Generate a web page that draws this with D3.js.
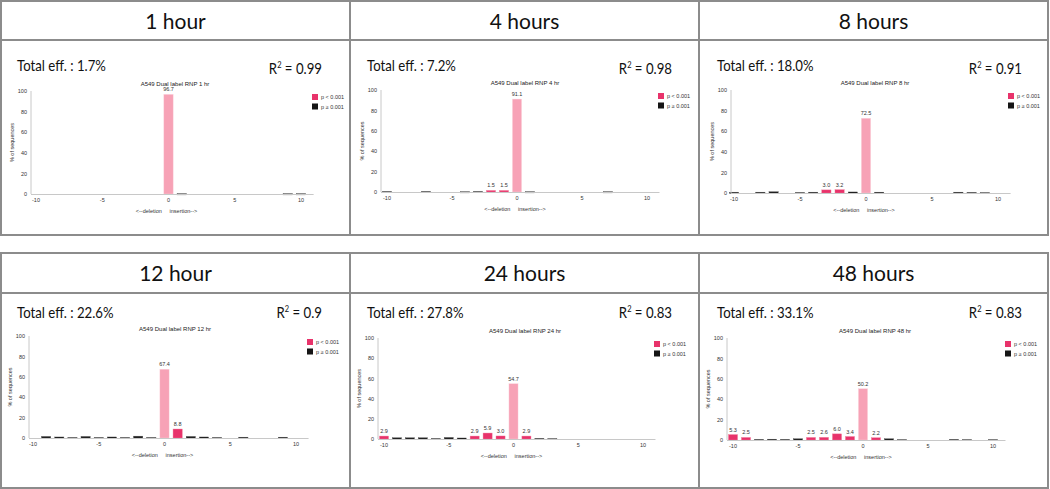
<!DOCTYPE html>
<html><head><meta charset="utf-8">
<script src="https://cdn.jsdelivr.net/npm/d3@7/dist/d3.min.js"></script>
<style>
html,body{margin:0;padding:0;background:#fff;}
svg{display:block;}
</style></head>
<body><svg id="c" width="1050" height="489"></svg>
<script>
// ---------- DATA ----------
const categories = [-10,-9,-8,-7,-6,-5,-4,-3,-2,-1,0,1,2,3,4,5,6,7,8,9,10];
const xTicks = [-10,-5,0,5,10];
const yTicks = [0,20,40,60,80,100];
const panelTitles = ["1 hour","4 hours","8 hours","12 hour","24 hours","48 hours"];
const chartTitles = ["A549 Dual label RNP 1 hr","A549 Dual label RNP 4 hr","A549 Dual label RNP 8 hr",
                     "A549 Dual label RNP 12 hr","A549 Dual label RNP 24 hr","A549 Dual label RNP 48 hr"];
const totalEff = ["1.7%","7.2%","18.0%","22.6%","27.8%","33.1%"];
const rSquared = ["0.99","0.98","0.91","0.9","0.83","0.83"];
const legendLabels = ["p < 0.001","p \u2265 0.001"];
//                 -10  -9  -8  -7  -6  -5  -4  -3  -2  -1    0    1   2   3   4  5   6   7   8   9  10
const values1h  = [0,   0,  0,  0,  0,  0,  0,  0,  0,  0, 96.7, 0.3, 0,  0,  0, 0,  0,  0,  0, 0.3,0.3];
const values4h  = [0.5, 0,  0, 0.5, 0,  0, 0.3,0.5,1.5,1.5,91.1, 0.3, 0,  0,  0, 0,  0, 0.3, 0,  0,  0];
const values8h  = [0.8, 0, 0.8,1.2, 0, 0.5,0.8,3.0,3.2,1.0,72.5, 0.8, 0,  0,  0, 0,  0, 0.8,0.6,0.4, 0];
const values12h = [0,  1.5,1.0,0.5,1.5,0.5,1.0,0.5,1.8,0.5,67.4, 8.8,1.5,1.0,0.5,0, 0.8, 0,  0, 0.8, 0];
const values24h = [2.9,1.2,1.2,1.2,0.5,1.5,1.0,2.9,5.9,3.0,54.7, 2.9,0.6,0.4, 0, 0,  0,  0,  0,  0,  0];
const values48h = [5.3,2.5,0.6,0.8,0.6,1.2,2.5,2.6,6.0,3.4,50.2, 2.2,1.2,0.4, 0, 0,  0, 0.6,0.4, 0, 0.4];
const allValues = [values1h, values4h, values8h, values12h, values24h, values48h];
// categories with p < 0.001 (besides unedited 0)
const sig1h = [], sig4h = [-2,-1], sig8h = [-3,-2], sig12h = [1],
      sig24h = [-10,-3,-2,-1,1], sig48h = [-10,-9,-4,-3,-2,-1,1];
const allSig = [sig1h, sig4h, sig8h, sig12h, sig24h, sig48h];

// ---------- LAYOUT (positions/styles) ----------
const colSig = "#e8336b", colWT = "#f7a2b6", colNS = "#151515";
const borderCol = "#8c8c8c";
const cols = [1, 350, 699, 1048];
const tables = [{top:1, head:40, bottom:235}, {top:253, head:293, bottom:488}];
// per panel: ox, axisX, x of -10, x of 10, y of 100, y of 0 (relative to ox)
const geo = [
  {ox:0,   ax:31, x0:36, x1:301, yT:91,  yB:194, row:0, lx:312},
  {ox:350, ax:31, x0:37, x1:297, yT:90,  yB:192, row:0, lx:308},
  {ox:700, ax:31, x0:34, x1:298, yT:90,  yB:193, row:0, lx:308},
  {ox:0,   ax:29, x0:33, x1:296, yT:336, yB:438, row:1, lx:307},
  {ox:350, ax:28, x0:34, x1:293, yT:338, yB:439, row:1, lx:304},
  {ox:700, ax:27, x0:33, x1:293, yT:338, yB:440, row:1, lx:305}
];
const bigFont = "Lato, 'Open Sans', sans-serif";
const smallFont = "'Liberation Sans', Arial, sans-serif";
const condense = 0.88;

const svg = d3.select("#c");

function squeeze(sel) {
  const n = sel.node();
  const w = n.getComputedTextLength();
  sel.attr("textLength", w * condense).attr("lengthAdjust","spacingAndGlyphs");
}

// tables
tables.forEach(t => {
  const g = svg.append("g").attr("fill","none").attr("stroke",borderCol).attr("stroke-width",2);
  g.append("rect").attr("x",cols[0]).attr("y",t.top).attr("width",cols[3]-cols[0]).attr("height",t.bottom-t.top);
  g.append("line").attr("x1",cols[0]).attr("x2",cols[3]).attr("y1",t.head).attr("y2",t.head);
  [cols[1],cols[2]].forEach(x => g.append("line").attr("x1",x).attr("x2",x).attr("y1",t.top).attr("y2",t.bottom));
});

geo.forEach((p, i) => {
  const t = tables[p.row];
  const cx = (cols[i%3] + cols[i%3+1]) / 2;
  // header
  svg.append("text").attr("x",cx).attr("y", t.top + 27.5).attr("text-anchor","middle")
    .attr("font-family",bigFont).attr("font-size",21).attr("fill","#111").text(panelTitles[i]);
  const g = svg.append("g").attr("transform",`translate(${p.ox},0)`);
  const effY = p.row===0 ? t.head + 31 : t.head + 25;
  const eff = g.append("text").attr("x",17).attr("y",effY).attr("font-family",bigFont).attr("font-size",15)
    .attr("fill","#111").text("Total eff. : " + totalEff[i]);
  squeeze(eff);
  const r = g.append("text").attr("x",322).attr("y",effY + (p.row===0?3:0)).attr("text-anchor","end")
    .attr("font-family",bigFont).attr("font-size",15).attr("fill","#111");
  r.append("tspan").text("R");
  r.append("tspan").attr("font-size",8.5).attr("dy",-6).text("2");
  r.append("tspan").attr("dy",6).text(" = " + rSquared[i]);
  squeeze(r);

  // scales
  const step = (p.x1 - p.x0) / 20;
  const x = d3.scaleBand().domain(categories).range([p.x0 - step/2, p.x1 + step/2]).paddingInner(0.3).paddingOuter(0.15);
  const y = d3.scaleLinear().domain([0,100]).range([p.yB, p.yT]);

  // chart title
  g.append("text").attr("x",175).attr("y",p.yT - 5.5).attr("text-anchor","middle")
    .attr("font-family",smallFont).attr("font-size",6).attr("fill","#222").text(chartTitles[i]);

  // bars
  const vals = allValues[i], sig = allSig[i];
  const data = categories.map((c,k) => ({c, v: vals[k], type: c===0 ? "wt" : (sig.includes(c) ? "sig" : "ns")}));
  g.append("g").selectAll("rect").data(data.filter(d => d.v > 0)).join("rect")
    .attr("x", d => x(d.c)).attr("width", x.bandwidth())
    .attr("y", d => y(d.v)).attr("height", d => Math.max(1.2, p.yB - y(d.v)))
    .attr("fill", d => d.type==="wt" ? colWT : d.type==="sig" ? colSig : colNS)
    .attr("stroke", d => d.type==="wt" ? "#fbd0da" : d.type==="sig" ? "#f07a9a" : "#555").attr("stroke-width",0.4);
  // value labels
  g.append("g").selectAll("text").data(data.filter(d => d.type !== "ns" && d.v > 0)).join("text")
    .attr("x", d => x(d.c) + x.bandwidth()/2).attr("y", d => y(d.v) - 3)
    .attr("text-anchor","middle").attr("font-family",smallFont).attr("font-size",5.5).attr("fill","#333")
    .text(d => d3.format(".1f")(d.v));

  // axes
  const axisCol = "#c8c8c8";
  g.append("line").attr("x1",p.ax).attr("x2",p.ax).attr("y1",p.yT).attr("y2",p.yB).attr("stroke",axisCol).attr("stroke-width",1);
  g.append("line").attr("x1",p.ax).attr("x2",p.x1 + step/2 + 6).attr("y1",p.yB+0.5).attr("y2",p.yB+0.5).attr("stroke",axisCol).attr("stroke-width",1);
  const ya = g.append("g").attr("transform",`translate(${p.ax},0)`)
    .call(d3.axisLeft(y).tickValues(yTicks).tickSize(0).tickPadding(4));
  ya.select(".domain").remove();
  ya.selectAll("text").attr("font-family",smallFont).attr("font-size",5.5).attr("fill","#333");
  const xa = g.append("g").attr("transform",`translate(0,${p.yB + 4})`)
    .call(d3.axisBottom(x).tickValues(xTicks).tickSize(0).tickPadding(0).tickFormat(d => d));
  xa.select(".domain").remove();
  xa.selectAll("text").attr("font-family",smallFont).attr("font-size",5.5).attr("fill","#333");

  // axis titles
  g.append("text").attr("x", x(0) + x.bandwidth()/2 - 2).attr("y", p.yB + 19).attr("text-anchor","middle")
    .attr("font-family",smallFont).attr("font-size",5.5).attr("fill","#333")
    .attr("xml:space","preserve").text("<--deletion     insertion-->");
  const ymid = (p.yT + p.yB)/2;
  g.append("text").attr("transform",`translate(${p.ax - 17},${ymid}) rotate(-90)`).attr("text-anchor","middle")
    .attr("font-family",smallFont).attr("font-size",5.5).attr("fill","#333").text("% of sequences");

  // legend
  [colSig, colNS].forEach((c, k) => {
    const ly = p.yT + 6 + k*9.5;
    g.append("rect").attr("x",p.lx).attr("y",ly - 3).attr("width",6).attr("height",6).attr("fill",c);
    g.append("text").attr("x",p.lx + 9).attr("y",ly + 2).attr("font-family",smallFont).attr("font-size",5.5)
      .attr("fill","#333").text(legendLabels[k]);
  });
});
</script></body></html>
